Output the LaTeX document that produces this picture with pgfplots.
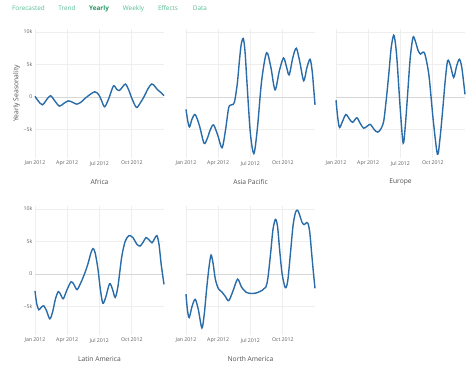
\documentclass[border=0pt]{standalone}
\usepackage{fontspec}
\setmainfont{Open Sans}
\usepackage{pgfplots}
\pgfplotsset{compat=1.18}
\usepackage{pgfplotstable}
\definecolor{linec}{RGB}{42,108,168}
\definecolor{gridc}{RGB}{238,238,238}
\definecolor{zeroc}{RGB}{215,215,215}
\definecolor{tickc}{RGB}{95,95,95}
\definecolor{titlec}{RGB}{80,80,80}
\definecolor{menuc}{RGB}{90,188,148}
\definecolor{menuactive}{RGB}{38,150,96}

\pgfplotstableread{
d v
0 0.1
9 -0.6
21 -1.2
33 -0.4
44 0.2
56 -0.6
69 -1.4
81 -1.0
94 -0.6
106 -0.8
118 -1.1
130 -0.8
142 -0.2
156 0.4
169 0.8
180 0.4
188 -0.5
197 -1.5
209 -0.2
222 1.7
231 1.2
239 1.0
247 1.5
256 2.0
265 1.1
274 -0.2
287 -1.6
298 -0.9
309 0.1
320 1.3
330 2.0
338 1.7
347 1.1
356 0.7
365 0.2
}\africa

\pgfplotstableread{
d v
0 -1.9
5 -3.7
10 -4.6
17 -3.4
26 -2.7
38 -4.4
51 -7.1
60 -6.4
69 -5.0
78 -4.3
90 -5.9
102 -7.8
112 -5.0
121 -1.6
130 -1.2
137 -0.8
145 2.0
151 5.5
156 8.0
162 9.0
167 7.0
173 1.8
182 -5.5
192 -8.7
202 -4.8
214 2.5
228 6.8
240 4.6
252 1.1
264 4.0
276 6.0
285 4.5
292 3.4
302 6.0
312 7.5
322 5.4
333 2.5
342 4.5
351 5.8
357 4.0
361 1.5
365 -1.2
}\asia

\pgfplotstableread{
d v
0 -0.5
5 -3.2
10 -4.7
18 -3.8
28 -2.7
38 -3.4
47 -3.9
59 -3.2
68 -4.0
78 -4.8
88 -4.5
97 -4.2
108 -5.0
118 -5.4
127 -4.9
135 -3.7
142 -0.5
149 3.3
156 7.5
163 9.5
168 8.3
173 5.4
182 -2.0
190 -7.1
196 -4.5
203 0.7
210 6.0
218 9.2
225 8.5
232 7.2
239 6.6
246 6.9
252 6.5
263 3.3
275 -3.5
287 -8.8
294 -6.5
302 -1.9
309 2.5
316 5.6
324 4.8
333 3.0
341 4.7
349 5.8
356 4.5
365 0.4
}\europe

\pgfplotstableread{
d v
0 -2.6
5 -4.6
11 -5.5
18 -5.1
25 -4.9
33 -5.7
42 -6.9
50 -5.8
58 -3.8
66 -2.7
73 -3.2
80 -3.8
90 -2.5
102 -1.2
110 -1.6
119 -2.4
130 -1.3
140 0.0
150 1.6
158 3.2
164 3.9
170 3.3
178 0.8
185 -2.4
192 -4.5
200 -3.6
211 -1.5
219 -2.3
227 -3.6
235 -1.8
245 2.5
255 5.0
266 5.9
277 5.6
288 4.6
297 4.3
306 4.9
314 5.6
322 5.3
331 4.8
338 5.4
345 5.9
351 4.5
357 1.5
365 -1.6
}\latam

\pgfplotstableread{
d v
0 -3.1
4 -5.5
9 -6.7
17 -5.0
26 -3.9
35 -5.5
45 -8.3
52 -6.0
58 -2.5
65 1.0
71 2.9
77 1.5
83 -0.8
92 -2.3
102 -2.8
112 -3.5
121 -4.1
133 -2.6
146 -0.8
157 -2.0
170 -2.8
185 -3.0
200 -2.9
216 -2.5
226 -2.0
232 -0.5
240 3.5
246 6.8
253 8.4
259 7.3
265 3.7
272 0.0
281 -2.1
288 -1.0
296 3.5
303 7.5
310 9.5
316 9.8
322 9.0
328 8.0
334 7.6
341 7.9
345 7.8
350 6.5
355 3.5
360 0.5
365 -2.2
}\namerica

\pgfplotsset{
  panel/.style={
    scale only axis, width=129pt, height=129pt,
    xmin=0, xmax=365, ymin=-9.38, ymax=10.46,
    axis line style={draw=none}, major tick length=0pt,
    xtick={0,91,182,274},
    xticklabels={Jan 2012,Apr 2012,Jul 2012,Oct 2012},
    ytick={-5,5,10},
    extra y ticks={0},
    grid=major,
    major grid style={draw=gridc, line width=0.7pt},
    extra y tick style={major grid style={draw=zeroc, line width=1pt}},
    xticklabel style={font=\fontsize{5.2}{6}\selectfont, text=tickc, inner sep=0pt, anchor=north, yshift=-3pt},
    yticklabel style={font=\fontsize{5.2}{6}\selectfont, text=tickc, inner sep=0pt, anchor=east, xshift=-2.5pt},
    xlabel style={font=\fontsize{6.7}{8}\selectfont, text=titlec, at={(axis description cs:0.5,0)}, anchor=center, yshift=-24pt},
    clip=false,
  },
  withy/.style={yticklabels={−5k,5k,10k}, extra y tick labels={0}},
  noy/.style={yticklabels={}, extra y tick labels={}},
}

\begin{document}
\begin{tikzpicture}
\useasboundingbox (0pt,0pt) rectangle (474pt,366pt);

\node[font=\fontsize{6.4}{8}\selectfont, text=menuc] at (28.5pt,357.5pt) {Forecasted};
\node[font=\fontsize{6.4}{8}\selectfont, text=menuc] at (67pt,357.5pt) {Trend};
\node[font=\fontsize{6.4}{8}\selectfont\bfseries, text=menuactive] at (99pt,357.5pt) {Yearly};
\node[font=\fontsize{6.4}{8}\selectfont, text=menuc] at (133.5pt,357.5pt) {Weekly};
\node[font=\fontsize{6.4}{8}\selectfont, text=menuc] at (168pt,357.5pt) {Effects};
\node[font=\fontsize{6.4}{8}\selectfont, text=menuc] at (200pt,357.5pt) {Data};

\begin{axis}[panel, withy, at={(35pt,208pt)}, anchor=south west, xlabel={Africa},
  ylabel={Yearly Seasonality},
  ylabel style={font=\fontsize{6.8}{8}\selectfont, text=titlec, at={(axis description cs:0,0.5)}, anchor=center, yshift=18.5pt}]
\addplot[linec, line width=1.4pt, smooth] table[x=d, y=v] {\africa};
\end{axis}

\begin{axis}[panel, noy, at={(186pt,208pt)}, anchor=south west, xlabel={Asia Pacific}]
\addplot[linec, line width=1.4pt, smooth] table[x=d, y=v] {\asia};
\end{axis}

\begin{axis}[panel, noy, at={(336pt,208pt)}, anchor=south west, xlabel={Europe}]
\addplot[linec, line width=1.4pt, smooth] table[x=d, y=v] {\europe};
\end{axis}

\begin{axis}[panel, withy, at={(35pt,31pt)}, anchor=south west, xlabel={Latin America}]
\addplot[linec, line width=1.4pt, smooth] table[x=d, y=v] {\latam};
\end{axis}

\begin{axis}[panel, noy, at={(186pt,31pt)}, anchor=south west, xlabel={North America}]
\addplot[linec, line width=1.4pt, smooth] table[x=d, y=v] {\namerica};
\end{axis}
\end{tikzpicture}
\end{document}
